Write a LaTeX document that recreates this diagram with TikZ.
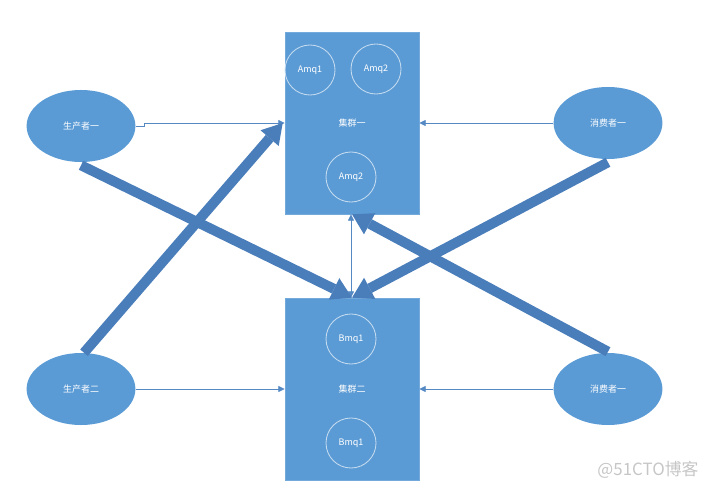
\documentclass[tikz,border=0pt]{standalone}
\usepackage{fontspec}
\newfontfamily\cjk{Noto Sans CJK SC}
\usetikzlibrary{positioning,arrows.meta,shapes.geometric}
\definecolor{boxblue}{RGB}{91,155,213}
\definecolor{barblue}{RGB}{74,126,187}
\definecolor{linkblue}{RGB}{84,137,196}
\def\px{0.025}

\begin{document}
\begin{tikzpicture}[x=\px cm, y=-\px cm,
    every node/.style={font=\cjk\fontsize{6.4}{7}\selectfont, text=white},
    >={Triangle[length=1.6mm,width=1.5mm]},
    cluster/.style={rectangle, fill=boxblue, draw=boxblue!85!white, minimum width=3.35cm, minimum height=4.55cm, inner sep=0pt},
    queue/.style={circle, draw=white!65!boxblue, line width=0.6pt, minimum size=1.25cm, inner sep=0pt},
    client/.style={ellipse, fill=boxblue, minimum width=2.72cm, minimum height=1.8cm, inner sep=0pt},
    link/.style={draw=linkblue, line width=0.6pt, ->},
    fat/.style={draw=barblue, line width=0.25cm, -{Triangle[length=0.5cm,width=0.6cm,line width=0pt]}}]
    \useasboundingbox (0,0) rectangle (707,491);


    % Nodes
    \node (box1) at (352,123) [cluster] {集群一};
    \node (box2) at (352,389) [cluster] {集群二};

    \node (amq1) at (310,70) [queue] {Amq1};
    \node (amq2) at (376,69) [queue] {Amq2};
    \node (amq3) at (351,177) [queue] {Amq2};
    \node (bmq1) at (351,339) [queue] {Bmq1};
    \node (bmq2) at (351,443) [queue] {Bmq1};

    \node (p1) at (81,126) [client] {生产者一};
    \node (p2) at (81,389) [client] {生产者二};
    \node (c1) at (608,123) [client] {消费者一};
    \node (c2) at (608,389) [client] {消费者一};

    \node (mark) at (648,470) [text=gray!45, font=\cjk\fontsize{12}{14}\selectfont] {@51CTO博客};

    % Thin links
    \draw[link] (p1.east) -- ++(9,0) |- (box1.west);
    \draw[link] (c1.west) -- (box1.east);
    \draw[link] (p2.east) -- (box2.west);
    \draw[link] (c2.west) -- (box2.east);
    \draw[link, <->] ([xshift=-1*\px cm]box1.south) -- ([xshift=-1*\px cm]box2.north);

    % Thick arrows
    \draw[fat] ([yshift=-3*\px cm]p1.south) -- (box2.north);
    \draw[fat] ([yshift=-3*\px cm]c1.south) -- (box2.north);
    \draw[fat] ([xshift=3*\px cm]p2.north) -- ([xshift=-2*\px cm]box1.west);
    \draw[fat] ([yshift=1*\px cm]c2.north) -- (box1.south);
\end{tikzpicture}
\end{document}
